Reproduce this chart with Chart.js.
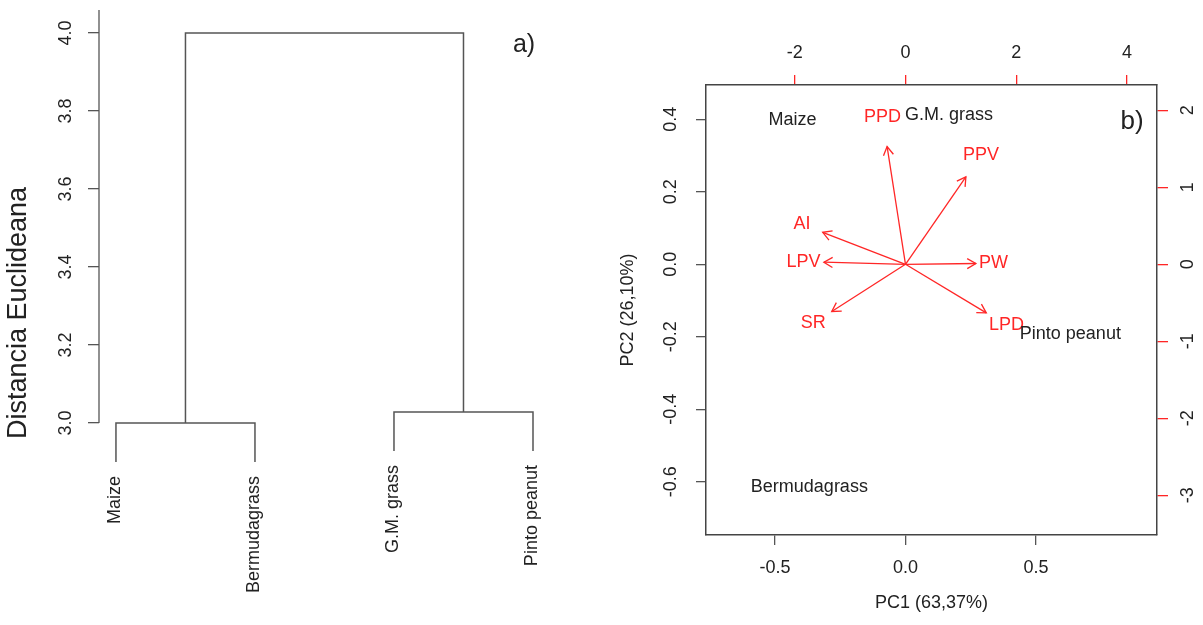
<!DOCTYPE html>
<html>
<head>
<meta charset="utf-8">
<title>Dendrograma y biplot</title>
<script src="https://cdn.jsdelivr.net/npm/chart.js@4.4.1/dist/chart.umd.min.js"></script>
<style>
  html, body { margin: 0; padding: 0; background: #fff; }
  #wrap { position: relative; width: 1203px; height: 625px; overflow: hidden; }
  #dendro { position: absolute; left: 0; top: 0; }
  #biplot { position: absolute; left: 600px; top: 0; }
</style>
</head>
<body>
<div id="wrap">
  <canvas id="dendro" width="600" height="625"></canvas>
  <canvas id="biplot" width="603" height="625"></canvas>
</div>
<script>
// a) cluster dendrogram (hclust style merges: negative = leaf, positive = earlier merge)
const leafNames = ['Maize', 'Bermudagrass', 'G.M. grass', 'Pinto peanut'];
const mergePairs = [[-1, -2], [-3, -4], [1, 2]];
const mergeHeights = [3.0, 3.028, 4.0];
const leafHang = 0.1;
const distTicks = [3.0, 3.2, 3.4, 3.6, 3.8, 4.0];

// b) PCA biplot
const sampleNames = ['Maize', 'G.M. grass', 'Bermudagrass', 'Pinto peanut'];
const pc1Scores = [-0.433, 0.167, -0.368, 0.632];
const pc2Scores = [0.397, 0.412, -0.613, -0.193];
const varNames = ['PPD', 'PPV', 'PW', 'LPD', 'AI', 'LPV', 'SR'];
const varPC1 = [-0.415, 1.363, 1.588, 1.823, -1.868, -1.841, -1.664];
const varPC2 = [1.913, 1.419, 0.013, -0.788, 0.519, 0.034, -0.766];
const arrowScale = 0.8; // R biplot draws arrows at 0.8 of the label position
const pc1Ticks = [-0.5, 0, 0.5];
const pc2Ticks = [0.4, 0.2, 0, -0.2, -0.4, -0.6];
const loadXTicks = [-2, 0, 2, 4];
const loadYTicks = [2, 1, 0, -1, -2, -3];

const INK = '#222';
const AXIS = '#555';
const BOX = '#444';
const RED = '#ff2626';
const FAMILY = '"Liberation Sans", Arial, sans-serif';

Chart.defaults.font.family = FAMILY;
Chart.defaults.color = INK;

const tickFont = { size: 18, family: FAMILY };

// keep the plot area exactly where the axis sizes put it
const fixSize = (prop, size) => s => {
    s[prop] = size;
    s.paddingTop = 0;
    s.paddingBottom = 0;
    s.paddingLeft = 0;
    s.paddingRight = 0;
};

// ---------- dendrogram geometry ----------
const leafPos = leafNames.map((_, i) => i + 1);
const nodeX = [];
const leafBottom = [];
const childX = id => (id < 0 ? leafPos[-id - 1] : nodeX[id - 1]);

const dendroSets = mergePairs.map(([a, b], i) => {
    const h = mergeHeights[i];
    const low = id => {
        if (id < 0) {
            leafBottom[-id - 1] = h - leafHang;
            return h - leafHang;
        }
        return mergeHeights[id - 1];
    };
    const xa = childX(a), xb = childX(b);
    nodeX[i] = (xa + xb) / 2;
    return {
        data: [{ x: xa, y: low(a) }, { x: xa, y: h }, { x: xb, y: h }, { x: xb, y: low(b) }],
        showLine: true,
        borderColor: AXIS,
        borderWidth: 1.5,
        pointRadius: 0,
        fill: false,
        tension: 0
    };
});

const dendroDecor = {
    id: 'dendroDecor',
    afterDraw(chart) {
        const { ctx, chartArea, scales: { x, y } } = chart;
        ctx.save();
        // axis line: from lowest tick up to the top of the plot
        ctx.strokeStyle = AXIS;
        ctx.lineWidth = 1.3;
        ctx.beginPath();
        ctx.moveTo(chartArea.left, y.getPixelForValue(distTicks[0]));
        ctx.lineTo(chartArea.left, chartArea.top);
        ctx.stroke();

        // leaf labels, perpendicular, hanging below the leaves
        ctx.font = '18px ' + FAMILY;
        ctx.fillStyle = INK;
        ctx.textAlign = 'right';
        ctx.textBaseline = 'middle';
        leafNames.forEach((name, i) => {
            ctx.save();
            ctx.translate(x.getPixelForValue(leafPos[i]) - 1, y.getPixelForValue(leafBottom[i]) + 14);
            ctx.rotate(-Math.PI / 2);
            ctx.fillText(name, 0, 0);
            ctx.restore();
        });

        ctx.font = '25px ' + FAMILY;
        ctx.textAlign = 'center';
        ctx.fillText('a)', chartArea.left + 425, chartArea.top + 35);
        ctx.restore();
    }
};

new Chart(document.getElementById('dendro'), {
    type: 'scatter',
    data: { datasets: dendroSets },
    options: {
        responsive: false,
        animation: false,
        devicePixelRatio: 1,
        events: [],
        layout: { padding: { top: 10, bottom: 9, left: 0, right: 0 } },
        plugins: { legend: { display: false }, tooltip: { enabled: false } },
        scales: {
            x: { type: 'linear', display: false, min: 0.878, max: 4.482 },
            y: {
                type: 'linear',
                min: 2.505,
                max: 4.059,
                afterBuildTicks: s => { s.ticks = distTicks.map(v => ({ value: v })); },
                afterFit: fixSize('width', 99),
                ticks: {
                    font: tickFont, color: INK, padding: 9.5, autoSkip: false,
                    minRotation: 90, maxRotation: 90, crossAlign: 'center',
                    callback: v => v.toFixed(1)
                },
                grid: { drawOnChartArea: false, color: AXIS, tickLength: 11, lineWidth: 1.3 },
                border: { display: false },
                title: {
                    display: true, text: 'Distancia Euclideana', color: INK,
                    font: { size: 27, family: FAMILY }, padding: { top: 2, bottom: 0 }
                }
            }
        }
    },
    plugins: [dendroDecor]
});

// ---------- biplot ----------
const arrowSets = varNames.map((name, i) => ({
    label: name,
    xAxisID: 'x2',
    yAxisID: 'y2',
    data: [{ x: 0, y: 0 }, { x: arrowScale * varPC1[i], y: arrowScale * varPC2[i] }],
    showLine: true,
    borderColor: RED,
    borderWidth: 1.3,
    pointRadius: 0,
    arrow: true
}));

const loadingSet = {
    label: 'loadings',
    xAxisID: 'x2',
    yAxisID: 'y2',
    data: varNames.map((_, i) => ({ x: varPC1[i], y: varPC2[i] })),
    pointRadius: 0,
    names: varNames,
    textColor: RED
};

const scoreSet = {
    label: 'scores',
    xAxisID: 'x',
    yAxisID: 'y',
    data: sampleNames.map((_, i) => ({ x: pc1Scores[i], y: pc2Scores[i] })),
    pointRadius: 0,
    names: sampleNames,
    textColor: INK
};

const biplotDecor = {
    id: 'biplotDecor',
    afterDatasetsDraw(chart) {
        const { ctx, chartArea } = chart;
        ctx.save();
        chart.data.datasets.forEach((ds, i) => {
            const pts = chart.getDatasetMeta(i).data;
            if (ds.arrow) {
                const p0 = pts[0], p1 = pts[1];
                const ang = Math.atan2(p1.y - p0.y, p1.x - p0.x);
                const len = 10, spread = Math.PI / 6;
                ctx.strokeStyle = RED;
                ctx.lineWidth = 1.3;
                ctx.beginPath();
                ctx.moveTo(p1.x - len * Math.cos(ang - spread), p1.y - len * Math.sin(ang - spread));
                ctx.lineTo(p1.x, p1.y);
                ctx.lineTo(p1.x - len * Math.cos(ang + spread), p1.y - len * Math.sin(ang + spread));
                ctx.stroke();
            }
            if (ds.names) {
                ctx.font = '18px ' + FAMILY;
                ctx.fillStyle = ds.textColor;
                ctx.textAlign = 'center';
                ctx.textBaseline = 'middle';
                pts.forEach((p, j) => ctx.fillText(ds.names[j], p.x, p.y));
            }
        });
        ctx.font = '26px ' + FAMILY;
        ctx.fillStyle = INK;
        ctx.textAlign = 'center';
        ctx.textBaseline = 'middle';
        ctx.fillText('b)', chartArea.right - 25, chartArea.top + 37);
        ctx.restore();
    }
};

const boxBorder = { display: true, color: BOX, width: 1.5 };

new Chart(document.getElementById('biplot'), {
    type: 'scatter',
    data: { datasets: [...arrowSets, loadingSet, scoreSet] },
    options: {
        responsive: false,
        animation: false,
        devicePixelRatio: 1,
        events: [],
        layout: { padding: 0 },
        plugins: { legend: { display: false }, tooltip: { enabled: false } },
        scales: {
            x: {
                type: 'linear', position: 'bottom', min: -0.764, max: 0.964,
                afterBuildTicks: s => { s.ticks = pc1Ticks.map(v => ({ value: v })); },
                afterFit: fixSize('height', 90),
                ticks: { font: tickFont, color: INK, padding: 12, autoSkip: false, maxRotation: 0, callback: v => v.toFixed(1) },
                grid: { drawOnChartArea: false, color: AXIS, tickLength: 10, lineWidth: 1.3 },
                border: boxBorder,
                title: { display: true, text: 'PC1 (63,37%)', color: INK, font: tickFont, padding: { top: 0, bottom: 11 } }
            },
            y: {
                type: 'linear', position: 'left', min: -0.7466, max: 0.4945,
                afterBuildTicks: s => { s.ticks = pc2Ticks.map(v => ({ value: v })); },
                afterFit: fixSize('width', 106),
                ticks: {
                    font: tickFont, color: INK, padding: 9, autoSkip: false,
                    minRotation: 90, maxRotation: 90, crossAlign: 'center',
                    callback: v => v.toFixed(1)
                },
                grid: { drawOnChartArea: false, color: AXIS, tickLength: 10, lineWidth: 1.3 },
                border: boxBorder,
                title: { display: true, text: 'PC2 (26,10%)', color: INK, font: tickFont, padding: { top: 17, bottom: 0 } }
            },
            x2: {
                type: 'linear', axis: 'x', position: 'top', min: -3.601, max: 4.540,
                afterBuildTicks: s => { s.ticks = loadXTicks.map(v => ({ value: v })); },
                afterFit: fixSize('height', 85),
                ticks: { font: tickFont, color: INK, padding: 11, autoSkip: false, maxRotation: 0, callback: v => String(v) },
                grid: { drawOnChartArea: false, color: RED, tickLength: 10, lineWidth: 1.3 },
                border: boxBorder
            },
            y2: {
                type: 'linear', axis: 'y', position: 'right', min: -3.516, max: 2.329,
                afterBuildTicks: s => { s.ticks = loadYTicks.map(v => ({ value: v })); },
                afterFit: fixSize('width', 46),
                ticks: {
                    font: tickFont, color: INK, padding: 12, autoSkip: false,
                    minRotation: 90, maxRotation: 90, crossAlign: 'center',
                    callback: v => String(v)
                },
                grid: { drawOnChartArea: false, color: RED, tickLength: 11, lineWidth: 1.3 },
                border: boxBorder
            }
        }
    },
    plugins: [biplotDecor]
});
</script>
</body>
</html>
